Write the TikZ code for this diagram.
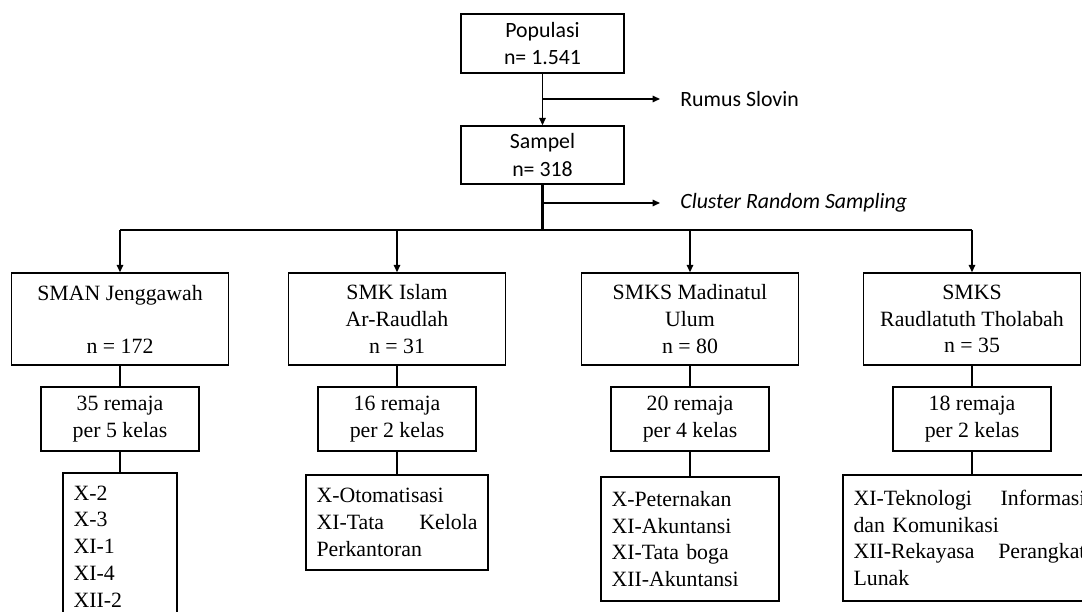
\documentclass[tikz,border=0pt]{standalone}
\usepackage{fontspec}
\setmainfont{Liberation Serif}
\newfontfamily\calibrifont{Carlito}
\usetikzlibrary{arrows.meta}
\newdimen\pxunit
\pxunit=0.55pt

\begin{document}
\begin{tikzpicture}[x=0.55pt, y=-0.55pt,
    >={Triangle[length=4pt,width=3.5pt]},
    link/.style={line width=0.8pt},
    trunk/.style={line width=1.4pt},
    topbox/.style={draw, line width=0.8pt, align=center, inner sep=0pt,
      font=\calibrifont\fontsize{12}{15.2}\selectfont,
      minimum width=163\pxunit, minimum height=59\pxunit},
    note/.style={anchor=west, inner xsep=20\pxunit, inner ysep=0pt,
      font=\calibrifont\fontsize{12}{15}\selectfont},
    school/.style={draw, line width=0.8pt, align=center, inner sep=0pt,
      font=\fontsize{12}{14.6}\selectfont,
      minimum width=217\pxunit, minimum height=92\pxunit},
    grupbox/.style={school, minimum width=158\pxunit, minimum height=64\pxunit},
    kelas/.style={draw, line width=0.8pt, align=left, inner xsep=10.5\pxunit,
      inner ysep=0pt, font=\fontsize{12}{14.7}\selectfont}]

    \useasboundingbox (0,0) rectangle (1082,612);
    \clip (0,0) rectangle (1082,612);

    % populasi dan sampel
    \node[topbox] (pop) at (542.5,43.5) {Populasi\\n= 1.541};
    \node[topbox, minimum height=58\pxunit] (samp) at (542.5,155) {Sampel\\n= 318};
    \node[note] (slovin) at (660,99) {Rumus Slovin};
    \node[note] (cluster) at (660,203) {\itshape Cluster Random Sampling};
    \coordinate (bus) at (542.5,230);

    \draw[link,->] (pop.south) -- (samp.north);
    \draw[link,->] (pop.south |- slovin.west) -- (slovin.west);
    \draw[trunk] (samp.south) -- (bus);
    \draw[link,->] (samp.south |- cluster.west) -- (cluster.west);

    % sekolah
    \node[school] (sman) at (120,319) {SMAN Jenggawah\\ ~ \\n = 172};
    \node[school] (smkislam) at (397,319) {SMK Islam\\Ar-Raudlah\\n = 31};
    \node[school] (madinatul) at (690,319) {SMKS Madinatul\\Ulum\\n = 80};
    \node[school] (raudlatuth) at (972,319) {SMKS\\Raudlatuth Tholabah\\n = 35};

    \draw[link] (sman.north |- bus) -- (raudlatuth.north |- bus);
    \draw[link,->] (sman.north |- bus) -- (sman.north);
    \draw[link,->] (smkislam.north |- bus) -- (smkislam.north);
    \draw[link,->] (madinatul.north |- bus) -- (madinatul.north);
    \draw[link,->] (raudlatuth.north |- bus) -- (raudlatuth.north);

    % remaja per kelas
    \node[grupbox] (sman-r) at (120,419) {35 remaja\\per 5 kelas};
    \node[grupbox] (smkislam-r) at (397,419) {16 remaja\\per 2 kelas};
    \node[grupbox] (madinatul-r) at (690,419) {20 remaja\\per 4 kelas};
    \node[grupbox] (raudlatuth-r) at (972,419) {18 remaja\\per 2 kelas};

    \draw[link] (sman.south) -- (sman-r.north);
    \draw[link] (smkislam.south) -- (smkislam-r.north);
    \draw[link] (madinatul.south) -- (madinatul-r.north);
    \draw[link] (raudlatuth.south) -- (raudlatuth-r.north);

    % kelas
    \node[kelas, text width=93\pxunit, minimum height=147\pxunit] (sman-k) at (120,546.5)
      {X-2\\X-3\\XI-1\\XI-4\\XII-2};
    \node[kelas, text width=161\pxunit, minimum height=95\pxunit] (smkislam-k) at (397,522.5)
      {X-Otomatisasi\\XI-Tata\hfill Kelola\\Perkantoran};
    \node[kelas, text width=157\pxunit, minimum height=124\pxunit] (madinatul-k) at (690,539)
      {X-Peternakan\\XI-Akuntansi\\XI-Tata boga\\XII-Akuntansi};
    \node[kelas, text width=232\pxunit, minimum height=126\pxunit] (raudlatuth-k) at (969.5,538)
      {XI-Teknologi\hfill Informasi\\dan Komunikasi\\XII-Rekayasa\hfill Perangkat\\Lunak};

    \draw[link] (sman-r.south) -- (sman-k.north);
    \draw[link] (smkislam-r.south) -- (smkislam-k.north);
    \draw[link] (madinatul-r.south) -- (madinatul-k.north);
    \draw[link] (raudlatuth-r.south) -- (raudlatuth-r.south |- raudlatuth-k.north);
\end{tikzpicture}
\end{document}
